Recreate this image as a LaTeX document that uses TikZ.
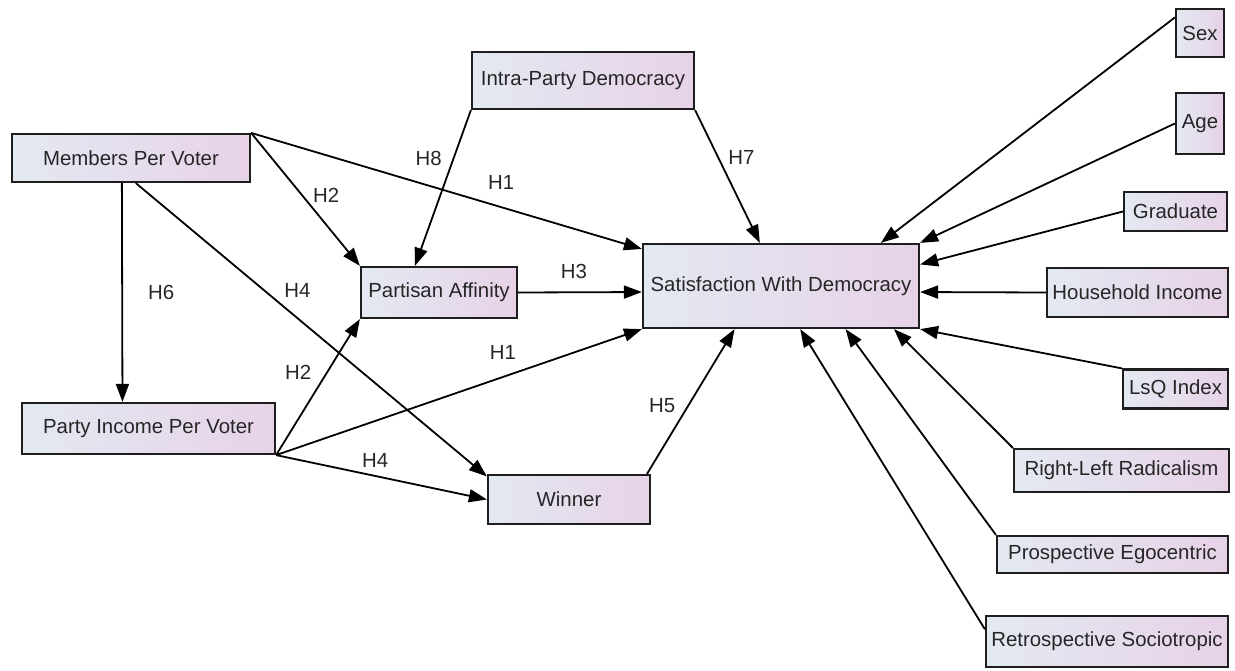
\documentclass[tikz,border=0pt]{standalone}
\usepackage{fontspec}
\setmainfont{Liberation Sans}
\usetikzlibrary{arrows.meta, calc}
\definecolor{boxleft}{RGB}{227,233,241}
\definecolor{boxright}{RGB}{231,210,232}
\definecolor{boxedge}{RGB}{30,30,30}

\begin{document}
\begin{tikzpicture}[
        x = 1pt, y = -1pt,
        > = {Triangle[length=18pt, width=13pt]},
  var/.style = {draw=boxedge, line width=2.2pt, left color=boxleft, right color=boxright,
                inner sep=0pt, font=\fontsize{20.4}{24}\selectfont, text=black!85},
 link/.style = {->, line width=1.8pt},
  hyp/.style = {inner sep=0pt, font=\fontsize{20.4}{24}\selectfont, text=black!85}
                        ]
\useasboundingbox (0,0) rectangle (1235,671);
% variables
\node[var, minimum width=238, minimum height=48] (mpv)  at (131,158)    {Members Per Voter};
\node[var, minimum width=253, minimum height=51] (pipv) at (148.5,428.5) {Party Income Per Voter};
\node[var, minimum width=222, minimum height=57] (ipd)  at (583,80.5)   {Intra-Party Democracy};
\node[var, minimum width=156, minimum height=51] (pa)   at (439,292.5)  {Partisan Affinity};
\node[var, minimum width=162, minimum height=49] (win)  at (569,499.5)  {Winner};
\node[var, minimum width=276, minimum height=84] (swd)  at (781,286)    {Satisfaction With Democracy};
% controls
\node[var, minimum width=48,  minimum height=48] (sex)  at (1200,33)    {Sex};
\node[var, minimum width=48,  minimum height=61] (age)  at (1200,123.5) {Age};
\node[var, minimum width=103, minimum height=39] (grad) at (1175.5,211.5) {Graduate};
\node[var, minimum width=181, minimum height=49] (hinc) at (1137.5,292.5) {Household Income};
\node[var, minimum width=105, minimum height=39] (lsq)  at (1175.5,389)  {LsQ Index};
\node[var, minimum width=215, minimum height=43] (rlr)  at (1121.5,470.5) {Right-Left Radicalism};
\node[var, minimum width=231, minimum height=37] (peg)  at (1112.5,554.5) {Prospective Egocentric};
\node[var, minimum width=242, minimum height=51] (rso)  at (1107,641.5)  {Retrospective Sociotropic};
% hypotheses
\draw[link] (mpv.north east) -- node[hyp, pos=.47, right=10pt] {H2} (pa.north west);
\draw[link] (mpv.north east) -- node[hyp, pos=.64, above=17pt] {H1} ($(swd.north west)!.07!(swd.south west)$);
\draw[link] ($(mpv.south west)!.462!(mpv.south east)$) -- node[hyp, pos=.5, right=25pt] {H6} ($(pipv.north west)!.398!(pipv.north east)$);
\draw[link] ($(mpv.south west)!.52!(mpv.south east)$) -- node[hyp, pos=.46, above=20pt] {H4} ($(win.north west)!.05!(win.south west)$);
\draw[link] (ipd.south west) -- node[hyp, pos=.31, left=11pt] {H8} ($(pa.north west)!.348!(pa.north east)$);
\draw[link] (ipd.south east) -- node[hyp, pos=.36, right=9pt] {H7} ($(swd.north west)!.424!(swd.north east)$);
\draw[link] (pa.east) -- node[hyp, pos=.45, above=13pt] {H3} ($(swd.north west)!.57!(swd.south west)$);
\draw[link] (pipv.south east) -- node[hyp, pos=.61, left=15pt] {H2} (pa.south west);
\draw[link] (pipv.south east) -- node[hyp, pos=.62, above=17pt] {H1} (swd.south west);
\draw[link] (pipv.south east) -- node[hyp, pos=.47, above=8pt] {H4} (win.west);
\draw[link] ($(win.north west)!.975!(win.north east)$) -- node[hyp, pos=.47, left=12pt] {H5} ($(swd.south west)!.333!(swd.south east)$);
% control links
\draw[link] ($(sex.north west)!.19!(sex.south west)$) -- ($(swd.north west)!.859!(swd.north east)$);
\draw[link] (age.west) -- (swd.north east);
\draw[link] (grad.west) -- ($(swd.north east)!.25!(swd.south east)$);
\draw[link] (hinc.west) -- ($(swd.north east)!.57!(swd.south east)$);
\draw[link] (lsq.north west) -- (swd.south east);
\draw[link] (rlr.north west) -- ($(swd.south west)!.906!(swd.south east)$);
\draw[link] (peg.north west) -- ($(swd.south west)!.732!(swd.south east)$);
\draw[link] ($(rso.north west)!.27!(rso.south west)$) -- ($(swd.south west)!.569!(swd.south east)$);
\end{tikzpicture}
\end{document}
